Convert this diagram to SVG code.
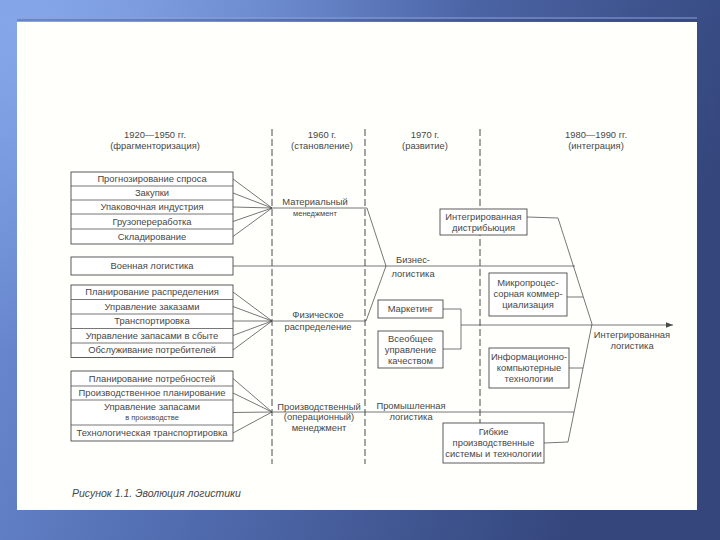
<svg xmlns="http://www.w3.org/2000/svg" width="720" height="540" viewBox="0 0 720 540">
<defs>
<linearGradient id="bg" x1="0" y1="0" x2="1" y2="0.3">
<stop offset="0" stop-color="#7394dc"/>
<stop offset="0.45" stop-color="#5470b4"/>
<stop offset="1" stop-color="#34467c"/>
</linearGradient>
<radialGradient id="hl" cx="0.05" cy="0.05" r="0.6">
<stop offset="0" stop-color="#8fb0f0" stop-opacity="0.7"/>
<stop offset="1" stop-color="#8fb0f0" stop-opacity="0"/>
</radialGradient>
<marker id="arr" viewBox="0 0 10 10" refX="10" refY="5" markerWidth="9" markerHeight="7" orient="auto" markerUnits="userSpaceOnUse">
<path d="M0,1 L10,5 L0,9 z" fill="#4a4a4a"/>
</marker>
<style>
.t{font-family:"Liberation Sans","DejaVu Sans",sans-serif;font-size:9.4px;fill:#474747;text-anchor:middle}
.s{font-size:7.5px}
.box{fill:#fff;stroke:#4a4a4a;stroke-width:0.9}
.ln{fill:none;stroke:#4a4a4a;stroke-width:0.75}
.dash{fill:none;stroke:#4a4a4a;stroke-width:1;stroke-dasharray:7 3}
</style>
</defs>
<rect x="0" y="0" width="720" height="540" fill="url(#bg)"/>
<rect x="0" y="0" width="720" height="540" fill="url(#hl)"/>
<line x1="17" y1="18" x2="697" y2="18" stroke="#8aa0d8" stroke-width="1"/>
<line x1="17" y1="20" x2="697" y2="20" stroke="#2e3c70" stroke-width="1" opacity="0.6"/>
<rect x="17" y="22" width="680" height="488" fill="#fffffc"/>

<g id="headers">
<text class="t" x="155" y="138">1920—1950 гг.</text>
<text class="t" x="155" y="149">(фрагменторизация)</text>
<text class="t" x="322" y="138">1960 г.</text>
<text class="t" x="322" y="149">(становление)</text>
<text class="t" x="425" y="138">1970 г.</text>
<text class="t" x="425" y="149">(развитие)</text>
<text class="t" x="596" y="138">1980—1990 гг.</text>
<text class="t" x="596" y="149">(интеграция)</text>
</g>

<g id="dividers">
<line class="dash" x1="272" y1="129" x2="272" y2="464"/>
<line class="dash" x1="365" y1="129" x2="365" y2="464"/>
<line class="dash" x1="480" y1="129" x2="480" y2="423"/>
</g>

<g id="connectors">
<path class="ln" d="M233,179 L272,208 M233,193 L272,208 M233,207 L272,208 M233,221.5 L272,208 M233,236.5 L272,208"/>
<path class="ln" d="M272,208 L367,208 L386,266 L366,321 L272,321"/>
<path class="ln" d="M233,292 L272,321 M233,306.5 L272,321 M233,321 L272,321 M233,335.5 L272,321 M233,350 L272,321"/>
<path class="ln" d="M233,378.5 L272,412 M233,393 L272,412 M233,412.5 L272,412 M233,433 L272,412"/>
<line class="ln" x1="233" y1="266" x2="575" y2="266"/>
<line class="ln" x1="272" y1="412" x2="574" y2="412"/>
<path class="ln" d="M527,217 L558,218 L592,324 L568,442 L544,443"/>
<line class="ln" x1="567" y1="297" x2="583" y2="297"/>
<line class="ln" x1="569" y1="368" x2="583" y2="368"/>
<path class="ln" d="M443,309 L461,309 L461,349 L443,349"/>
<line class="ln" x1="461" y1="325" x2="673" y2="325" marker-end="url(#arr)"/>
</g>

<g id="group1">
<rect class="box" x="71" y="172" width="162" height="72"/>
<path class="ln" d="M71,186 H233 M71,200 H233 M71,214 H233 M71,229 H233"/>
<text class="t" x="152" y="182">Прогнозирование спроса</text>
<text class="t" x="152" y="196">Закупки</text>
<text class="t" x="152" y="210">Упаковочная индустрия</text>
<text class="t" x="152" y="224.5">Грузопереработка</text>
<text class="t" x="152" y="239.5">Складирование</text>
</g>

<g id="military">
<rect class="box" x="71" y="257" width="162" height="18"/>
<text class="t" x="152" y="269">Военная логистика</text>
</g>

<g id="group2">
<rect class="box" x="71" y="285" width="162" height="72.5"/>
<path class="ln" d="M71,299.5 H233 M71,314 H233 M71,328.5 H233 M71,343 H233"/>
<text class="t" x="152" y="295">Планирование распределения</text>
<text class="t" x="152" y="309.5">Управление заказами</text>
<text class="t" x="152" y="324">Транспортировка</text>
<text class="t" x="152" y="338.5">Управление запасами в сбыте</text>
<text class="t" x="152" y="353">Обслуживание потребителей</text>
</g>

<g id="group3">
<rect class="box" x="71" y="371" width="162" height="70"/>
<path class="ln" d="M71,386 H233 M71,400 H233 M71,425 H233"/>
<text class="t" x="152" y="381.5">Планирование потребностей</text>
<text class="t" x="152" y="396">Производственное планирование</text>
<text class="t" x="152" y="410">Управление запасами</text>
<text class="t s" x="152" y="420">в производстве</text>
<text class="t" x="152" y="436">Технологическая транспортировка</text>
</g>

<g id="material">
<text class="t" x="315" y="205">Материальный</text>
<text class="t s" x="315" y="216">менеджмент</text>
</g>

<g id="physical">
<text class="t" x="318" y="318">Физическое</text>
<text class="t" x="318" y="330">распределение</text>
</g>

<g id="production">
<text class="t" x="319" y="410">Производственный</text>
<text class="t" x="319" y="420">(операционный)</text>
<text class="t" x="319" y="431">менеджмент</text>
</g>

<g id="business">
<text class="t" x="413" y="263">Бизнес-</text>
<text class="t" x="413" y="277">логистика</text>
</g>

<g id="industrial">
<text class="t" x="411" y="409">Промышленная</text>
<text class="t" x="411" y="420">логистика</text>
</g>

<g id="marketing">
<rect class="box" x="378" y="300" width="65" height="18"/>
<text class="t" x="410.5" y="312">Маркетинг</text>
</g>

<g id="quality">
<rect class="box" x="378" y="331" width="65" height="37"/>
<text class="t" x="410.5" y="342">Всеобщее</text>
<text class="t" x="410.5" y="353">управление</text>
<text class="t" x="410.5" y="364">качеством</text>
</g>

<g id="distribution">
<rect class="box" x="440" y="209" width="87" height="26"/>
<text class="t" x="483.5" y="220">Интегрированная</text>
<text class="t" x="483.5" y="231">дистрибьюция</text>
</g>

<g id="micro">
<rect class="box" x="489" y="273" width="78" height="43"/>
<text class="t" x="528" y="286">Микропроцес-</text>
<text class="t" x="528" y="297">сорная коммер-</text>
<text class="t" x="528" y="308">циализация</text>
</g>

<g id="infotech">
<rect class="box" x="489" y="348" width="80" height="40"/>
<text class="t" x="529" y="360">Информационно-</text>
<text class="t" x="529" y="371">компьютерные</text>
<text class="t" x="529" y="382">технологии</text>
</g>

<g id="flexible">
<rect class="box" x="443" y="423" width="101" height="40"/>
<text class="t" x="493.5" y="435">Гибкие</text>
<text class="t" x="493.5" y="446">производственные</text>
<text class="t" x="493.5" y="457">системы и технологии</text>
</g>

<g id="integrated">
<text class="t" x="632" y="338">Интегрированная</text>
<text class="t" x="632" y="349">логистика</text>
</g>

<text x="72" y="497" font-family="Liberation Sans, sans-serif" font-size="10.5" font-style="italic" fill="#474747">Рисунок 1.1. Эволюция логистики</text>
</svg>
